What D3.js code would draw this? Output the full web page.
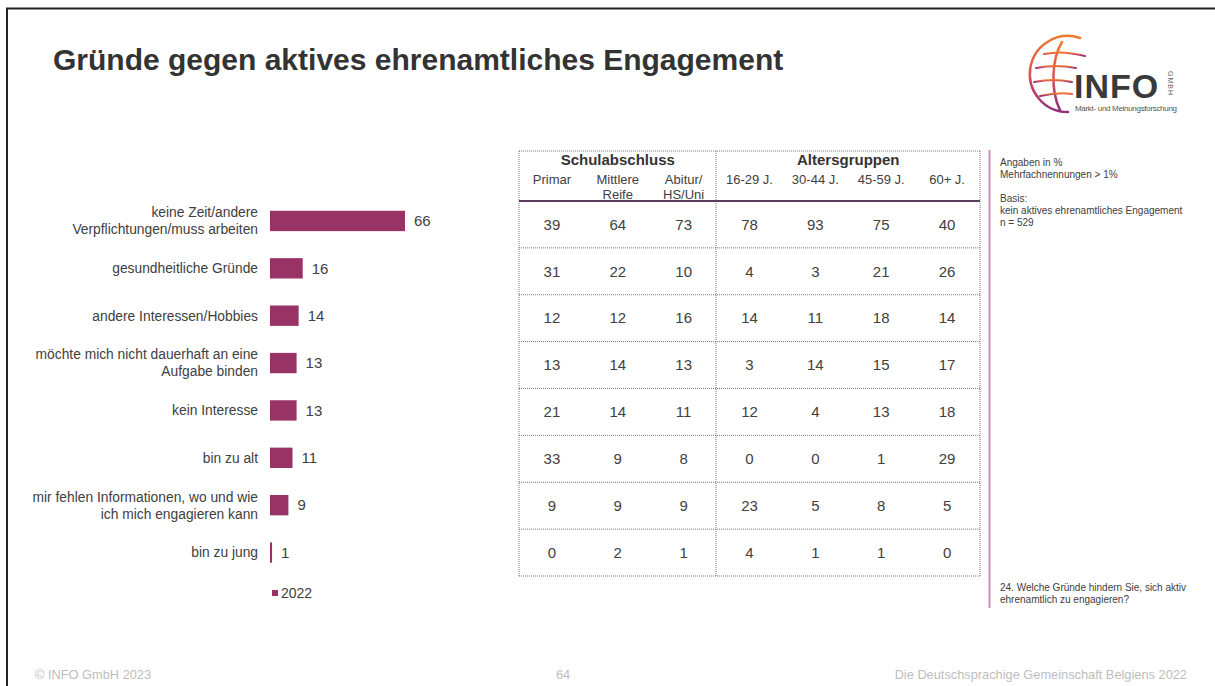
<!DOCTYPE html>
<html>
<head>
<meta charset="utf-8">
<script src="https://cdn.jsdelivr.net/npm/d3@7"></script>
<style>
	body { margin: 0; background: #fff; }
	svg { font-family: "Liberation Sans", Arial, sans-serif; }
</style>
</head>
<body>
<div id="chart"></div>
<script>
var categories = [
	["keine Zeit/andere", "Verpflichtungen/muss arbeiten"],
	["gesundheitliche Gründe"],
	["andere Interessen/Hobbies"],
	["möchte mich nicht dauerhaft an eine", "Aufgabe binden"],
	["kein Interesse"],
	["bin zu alt"],
	["mir fehlen Informationen, wo und wie", "ich mich engagieren kann"],
	["bin zu jung"],
];
var values2022 = [66, 16, 14, 13, 13, 11, 9, 1];

var groupLabels = ["Schulabschluss", "Altersgruppen"];
var columnLabels = [
	["Primar"],
	["Mittlere", "Reife"],
	["Abitur/", "HS/Uni"],
	["16-29 J."],
	["30-44 J."],
	["45-59 J."],
	["60+ J."],
];
var tableValues = [
	[39, 64, 73, 78, 93, 75, 40],
	[31, 22, 10, 4, 3, 21, 26],
	[12, 12, 16, 14, 11, 18, 14],
	[13, 14, 13, 3, 14, 15, 17],
	[21, 14, 11, 12, 4, 13, 18],
	[33, 9, 8, 0, 0, 1, 29],
	[9, 9, 9, 23, 5, 8, 5],
	[0, 2, 1, 4, 1, 1, 0],
];

var notesTop = ["Angaben in %", "Mehrfachnennungen > 1%", "", "Basis:", "kein aktives ehrenamtliches Engagement", "n = 529"];
var notesBottom = ["24. Welche Gründe hindern Sie, sich aktiv", "ehrenamtlich zu engagieren?"];

var barColor = "#993366";
var textColor = "#404040";
var W = 1215, H = 686;

var svg = d3.select("#chart").append("svg").attr("width", W).attr("height", H);

// slide frame (left + top edges visible)
svg.append("path")
	.attr("d", "M7,686 V8.5 H1215")
	.attr("fill", "none")
	.attr("stroke", "#222")
	.attr("stroke-width", 2);

// title
svg.append("text")
	.attr("x", 53).attr("y", 70)
	.attr("font-size", 30).attr("font-weight", "bold")
	.attr("fill", "#333")
	.text("Gründe gegen aktives ehrenamtliches Engagement");

// ---- bar chart ----
var y = d3.scaleBand().domain(d3.range(categories.length)).range([197.5, 576]).paddingInner(0.57).paddingOuter(0.28);
var x = d3.scaleLinear().domain([0, 66]).range([270, 405]);

var bars = svg.append("g");
bars.selectAll("rect")
	.data(values2022)
	.enter()
	.append("rect")
	.attr("x", x(0))
	.attr("y", (d, i) => y(i))
	.attr("width", (d) => Math.max(1.5, x(d) - x(0)))
	.attr("height", y.bandwidth())
	.attr("fill", barColor);

bars.selectAll(".val")
	.data(values2022)
	.enter()
	.append("text")
	.attr("class", "val")
	.attr("x", (d) => Math.max(x(d), x(0) + 1.5) + 9)
	.attr("y", (d, i) => y(i) + y.bandwidth() / 2)
	.attr("dy", "0.35em")
	.attr("font-size", 15)
	.attr("fill", textColor)
	.text((d) => d);

var labels = bars.selectAll(".lab")
	.data(categories)
	.enter()
	.append("text")
	.attr("class", "lab")
	.attr("text-anchor", "end")
	.attr("font-size", 13.8)
	.attr("fill", textColor)
	.attr("y", (d, i) => y(i) + y.bandwidth() / 2);
labels.each(function (lines) {
	var t = d3.select(this);
	var y0 = +t.attr("y");
	lines.forEach(function (l, k) {
		t.append("tspan")
			.attr("x", 258)
			.attr("y", y0 + (k - (lines.length - 1) / 2) * 17)
			.attr("dy", "0.35em")
			.text(l);
	});
});

// legend
svg.append("rect").attr("x", 272).attr("y", 590).attr("width", 6).attr("height", 6).attr("fill", barColor);
svg.append("text").attr("x", 281).attr("y", 593).attr("dy", "0.35em")
	.attr("font-size", 14).attr("fill", textColor).text("2022");

// ---- table ----
var tLeft = 519, tRight = 980, tTop = 151, tHead = 201, tBottom = 576, tDiv = 716;
var col = d3.scaleBand().domain(d3.range(columnLabels.length)).range([519, 980]);
var row = d3.scaleBand().domain(d3.range(tableValues.length)).range([tHead, tBottom]);
var dotted = "#8c6a8c";

var tbl = svg.append("g");
// dotted row separators
tbl.selectAll(".sep")
	.data(d3.range(1, tableValues.length + 1))
	.enter()
	.append("line")
	.attr("x1", tLeft).attr("x2", tRight)
	.attr("y1", (d) => row(d - 1) + row.bandwidth())
	.attr("y2", (d) => row(d - 1) + row.bandwidth())
	.attr("stroke", dotted).attr("stroke-width", 1).attr("stroke-dasharray", "1,1");
tbl.append("line").attr("x1", tLeft).attr("x2", tRight).attr("y1", tTop).attr("y2", tTop)
	.attr("stroke", dotted).attr("stroke-dasharray", "1,1");
[tLeft, tDiv, tRight].forEach(function (xx) {
	tbl.append("line").attr("x1", xx).attr("x2", xx).attr("y1", tTop).attr("y2", tBottom)
		.attr("stroke", dotted).attr("stroke-dasharray", "1,1");
});
tbl.append("line").attr("x1", tLeft).attr("x2", tRight).attr("y1", tHead).attr("y2", tHead)
	.attr("stroke", "#5b3b5b").attr("stroke-width", 2);

// group headers
var groupX = [(col(0) + col(2) + col.bandwidth()) / 2, (col(3) + col(6) + col.bandwidth()) / 2];
tbl.selectAll(".grp")
	.data(groupLabels)
	.enter()
	.append("text")
	.attr("x", (d, i) => groupX[i])
	.attr("y", 160).attr("dy", "0.35em")
	.attr("text-anchor", "middle")
	.attr("font-size", 15).attr("font-weight", "bold")
	.attr("fill", "#333")
	.text((d) => d);

// column headers
tbl.selectAll(".colh")
	.data(columnLabels)
	.enter()
	.append("text")
	.attr("class", "colh")
	.attr("text-anchor", "middle")
	.attr("font-size", 13)
	.attr("fill", textColor)
	.each(function (lines, i) {
		var t = d3.select(this);
		lines.forEach(function (l, k) {
			t.append("tspan")
				.attr("x", col(i) + col.bandwidth() / 2)
				.attr("y", 179 + k * 15)
				.attr("dy", "0.35em")
				.text(l);
		});
	});

// cells
tableValues.forEach(function (r, ri) {
	tbl.selectAll(".cell" + ri)
		.data(r)
		.enter()
		.append("text")
		.attr("x", (d, ci) => col(ci) + col.bandwidth() / 2)
		.attr("y", row(ri) + row.bandwidth() / 2)
		.attr("dy", "0.35em")
		.attr("text-anchor", "middle")
		.attr("font-size", 15)
		.attr("fill", textColor)
		.text((d) => d);
});

// ---- notes ----
svg.append("line").attr("x1", 989.5).attr("x2", 989.5).attr("y1", 150).attr("y2", 608)
	.attr("stroke", "#c98fb4").attr("stroke-width", 2);
svg.selectAll(".nt")
	.data(notesTop)
	.enter()
	.append("text")
	.attr("x", 1000).attr("y", (d, i) => 162 + i * 12).attr("dy", "0.35em")
	.attr("font-size", 10).attr("fill", textColor)
	.text((d) => d);
svg.selectAll(".nb")
	.data(notesBottom)
	.enter()
	.append("text")
	.attr("x", 1000).attr("y", (d, i) => 587 + i * 12).attr("dy", "0.35em")
	.attr("font-size", 10).attr("fill", textColor)
	.text((d) => d);

// ---- logo ----
var defs = svg.append("defs");
var grad = defs.append("linearGradient").attr("id", "lg").attr("x1", 0).attr("y1", 0).attr("x2", 0).attr("y2", 1);
grad.append("stop").attr("offset", "0%").attr("stop-color", "#f07a2a");
grad.append("stop").attr("offset", "55%").attr("stop-color", "#d4505a");
grad.append("stop").attr("offset", "100%").attr("stop-color", "#8e2f7a");
var logo = svg.append("g").attr("fill", "none").attr("stroke", "url(#lg)").attr("stroke-linecap", "round");
logo.append("path").attr("d", "M1080,38 A38,38 0 1 0 1068,112").attr("stroke-width", 2.5);
logo.append("path").attr("d", "M1062,42 C1052,58 1050,90 1060,110").attr("stroke-width", 2.5);
logo.append("path").attr("d", "M1044,54 Q1062,50 1085,56").attr("stroke-width", 2);
logo.append("path").attr("d", "M1036,68 Q1056,64 1076,68").attr("stroke-width", 2);
logo.append("path").attr("d", "M1034,82 Q1054,78 1072,82").attr("stroke-width", 2);
logo.append("path").attr("d", "M1040,96 Q1058,92 1072,94").attr("stroke-width", 2);
svg.append("text").attr("x", 1074).attr("y", 98)
	.attr("font-size", 34).attr("font-weight", "bold").attr("fill", "#3a3a3a")
	.attr("letter-spacing", 1).text("INFO");
svg.append("text").attr("transform", "translate(1168,71) rotate(90)")
	.attr("font-size", 7).attr("fill", "#666").attr("letter-spacing", 1).text("GMBH");
svg.append("text").attr("x", 1075).attr("y", 111)
	.attr("font-size", 8).attr("fill", "#555").attr("textLength", 102).text("Markt- und Meinungsforschung");

// ---- footer ----
var footer = svg.append("g").attr("font-size", 12.8).attr("fill", "#bdbdbd");
footer.append("text").attr("x", 35).attr("y", 679).text("© INFO GmbH 2023");
footer.append("text").attr("x", 563).attr("y", 679).attr("text-anchor", "middle").text("64");
footer.append("text").attr("x", 1187).attr("y", 679).attr("text-anchor", "end").text("Die Deutschsprachige Gemeinschaft Belgiens 2022");
</script>
</body>
</html>
